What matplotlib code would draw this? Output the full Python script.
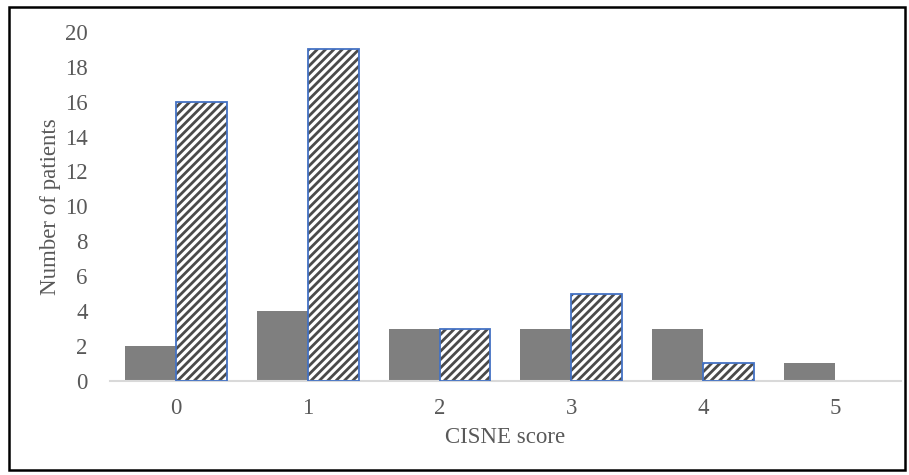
import matplotlib.pyplot as plt
import numpy as np
from matplotlib.patches import Rectangle

plt.rcParams['font.family'] = ['Liberation Serif', 'DejaVu Serif']
plt.rcParams['hatch.linewidth'] = 2.0

# data
scores = ['0', '1', '2', '3', '4', '5']
solid_counts = [2, 4, 3, 3, 3, 1]
hatched_counts = [16, 19, 3, 5, 1, 0]
y_ticks = list(range(0, 21, 2))

fig = plt.figure(figsize=(9.09, 4.75), dpi=100)
ax = fig.add_axes([0.121, 0.198, 0.870, 0.735])

x = np.arange(len(scores))
w = 0.386
ax.bar(x - w / 2, solid_counts, w, color='#7f7f7f', linewidth=0, zorder=2)
# hatch drawn in dark gray, outline in blue on top
ax.bar(x + w / 2, hatched_counts, w, color='white', edgecolor='#4a4a4a',
       hatch='////', linewidth=0, zorder=2)
ax.bar([xi + w / 2 for xi, v in zip(x, hatched_counts) if v > 0],
       [v for v in hatched_counts if v > 0], w, fill=False,
       edgecolor='#4472c4', linewidth=1.3, zorder=3)

ax.set_xlim(-0.5, len(scores) - 0.5)
ax.set_ylim(0, 20)
ax.set_yticks(y_ticks)
ax.set_xticks(x)
ax.set_xticklabels(scores)

for s in ['top', 'right', 'left']:
    ax.spines[s].set_visible(False)
ax.spines['bottom'].set_color('#d9d9d9')
ax.spines['bottom'].set_linewidth(1.5)
ax.tick_params(axis='both', length=0, labelsize=16.5, colors='#595959')
ax.tick_params(axis='y', pad=16)
ax.tick_params(axis='x', pad=12)

ax.set_xlabel('CISNE score', fontsize=16.5, color='#595959', labelpad=6)
ax.set_ylabel('Number of patients', fontsize=16.5, color='#595959', labelpad=3)

# outer frame around the whole figure
fig.patches.append(Rectangle((0.010, 0.010), 0.986, 0.975, transform=fig.transFigure,
                             fill=False, edgecolor='black', linewidth=1.8))

fig.savefig('out.png', dpi=100)
